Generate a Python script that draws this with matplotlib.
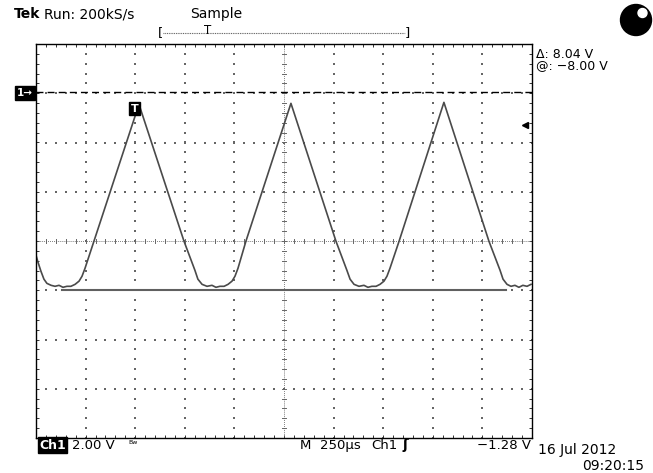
import numpy as np
import matplotlib
matplotlib.use("Agg")
import matplotlib.pyplot as plt
from matplotlib.patches import Circle

W, H = 653, 473

# ---- data: trace (time in microseconds from left edge, volts) ----
t_us = [0, 10, 25, 40, 55, 76, 96, 116, 136, 156, 176, 197, 217, 232, 247, 292,
        519, 746, 801, 816, 837, 862, 887, 907, 927, 948, 968, 988, 1003, 1018, 1058,
        1285, 1512, 1567, 1583, 1603, 1628, 1653, 1673, 1693, 1714, 1734, 1754, 1769, 1784, 1830,
        2056, 2283, 2339, 2354, 2374, 2394, 2414, 2434, 2454, 2475, 2495]
volts = [-6.58, -6.86, -7.23, -7.55, -7.72, -7.80, -7.84, -7.80, -7.88, -7.84, -7.84, -7.76, -7.63, -7.43, -7.11, -6.01,
         -0.45, -6.01, -7.19, -7.55, -7.76, -7.84, -7.80, -7.88, -7.84, -7.84, -7.76, -7.63, -7.43, -7.11, -6.01,
         -0.41, -6.01, -7.19, -7.55, -7.76, -7.84, -7.80, -7.88, -7.84, -7.84, -7.76, -7.63, -7.43, -7.11, -6.01,
         -0.37, -6.01, -7.19, -7.55, -7.76, -7.84, -7.80, -7.88, -7.80, -7.84, -7.76]

cursor_a = 0.04      # dashed cursor (V)
cursor_b = -8.00     # solid cursor (V)
cursor_b_span = [131, 2369]
trig_level = -1.28
trig_time = 496

time_per_div = 250.0
volt_per_div = 2.0
x_range = [0, 2500]
y_range = [-14, 2]
center_v = -6.0
center_t = 1250

fig = plt.figure(figsize=(W / 100, H / 100), dpi=100, facecolor="white")
ax = fig.add_axes([36 / W, 1 - 438 / H, 496 / W, 394 / H])
ax.set_xlim(*x_range)
ax.set_ylim(*y_range)
for s in ax.spines.values():
    s.set_linewidth(1.0)
    s.set_color("black")

# border ticks every 0.2 div
ax.set_xticks(np.arange(x_range[0], x_range[1] + 1, time_per_div / 5))
ax.set_yticks(np.arange(y_range[0], y_range[1] + 0.01, volt_per_div / 5))
ax.tick_params(direction="in", length=2.5, width=0.7, top=True, right=True,
               labelbottom=False, labelleft=False, colors="#333333")

gcol = "#666666"
# grid dots
vdots = np.arange(y_range[0], y_range[1] + 0.01, volt_per_div / 5)
tdots = np.arange(x_range[0], x_range[1] + 1, time_per_div / 5)
for k in range(1, 10):
    tx = k * time_per_div
    if tx == center_t:
        continue
    ax.scatter(np.full_like(vdots, tx), vdots, s=1.0, color=gcol, marker="s", linewidths=0)
for k in range(1, 8):
    vy = y_range[0] + k * volt_per_div
    if abs(vy - center_v) < 1e-6:
        continue
    ax.scatter(tdots, np.full_like(tdots, vy), s=1.0, color=gcol, marker="s", linewidths=0)

# center lines (dense dotted with tick marks)
ax.plot(x_range, [center_v, center_v], color=gcol, lw=0.7, ls=(0, (0.8, 1.2)))
ax.plot([center_t, center_t], y_range, color=gcol, lw=0.7, ls=(0, (0.8, 1.2)))
dv = 0.1
dt = 12.6
for tx in tdots:
    ax.plot([tx, tx], [center_v - dv, center_v + dv], color=gcol, lw=0.7)
for vy in vdots:
    ax.plot([center_t - dt, center_t + dt], [vy, vy], color=gcol, lw=0.7)

# cursors
ax.plot(x_range, [cursor_a, cursor_a], color="black", lw=1.0, ls=(0, (5, 3)))
ax.plot(cursor_b_span, [cursor_b, cursor_b], color="#606060", lw=1.5)

# trace
ax.plot(t_us, volts, color="#4a4a4a", lw=1.2, solid_joinstyle="round")

# trigger marker 'T' near peak
ax.text(trig_time, -0.62, "T", color="white", fontsize=8, fontweight="bold",
        ha="center", va="center",
        bbox=dict(boxstyle="square,pad=0.12", fc="black", ec="black"))

# trigger level arrow on right
ax.plot([x_range[1] - 35], [trig_level], marker="<", color="black", markersize=5, clip_on=False)


def fx(x):
    return x / W


def fy(y):
    return 1 - y / H


# Ground marker 1->
fig.text(fx(17), fy(93), "1→", color="white", fontsize=7.5, fontweight="bold",
         ha="left", va="center",
         bbox=dict(boxstyle="square,pad=0.15", fc="black", ec="black"))

# top texts
fig.text(fx(14), fy(14), "Tek", fontsize=10, fontweight="bold", ha="left", va="center")
fig.text(fx(44), fy(14), "Run: 200kS/s", fontsize=10, ha="left", va="center")
fig.text(fx(190), fy(14), "Sample", fontsize=10, ha="left", va="center")

# record bracket
fig.text(fx(158), fy(33), "[", fontsize=9.5, ha="left", va="center")
fig.text(fx(410), fy(33), "]", fontsize=9.5, ha="right", va="center")
fig.add_artist(plt.Line2D([fx(163), fx(405)], [fy(33), fy(33)], color="#555555",
                          lw=0.8, ls=(0, (0.8, 0.8))))
fig.text(fx(208), fy(31), "T", fontsize=8.5, ha="center", va="center")

# ball top right (drawn in inch coordinates to stay round)
fig.add_artist(Circle((6.36, (H - 20) / 100), 0.155, transform=fig.dpi_scale_trans,
                      fc="black", ec="black"))
fig.add_artist(Circle((6.425, (H - 13) / 100), 0.045, transform=fig.dpi_scale_trans,
                      fc="white", ec="white"))

# right readouts
fig.text(fx(536), fy(54), "Δ: 8.04 V", fontsize=9, ha="left", va="center")
fig.text(fx(536), fy(66), "@: −8.00 V", fontsize=9, ha="left", va="center")

# bottom readouts
fig.text(fx(39), fy(445), "Ch1", color="white", fontsize=9, fontweight="bold",
         ha="left", va="center",
         bbox=dict(boxstyle="square,pad=0.1", fc="black", ec="black"))
fig.text(fx(72), fy(445), "2.00 V", fontsize=9.5, ha="left", va="center")
fig.text(fx(128), fy(443), "Bw", fontsize=4.5, ha="left", va="center")
fig.text(fx(300), fy(445), "M", fontsize=9.5, ha="left", va="center")
fig.text(fx(320), fy(445), "250µs", fontsize=9.5, ha="left", va="center")
fig.text(fx(371), fy(445), "Ch1", fontsize=9.5, ha="left", va="center")
fig.text(fx(403), fy(445), "ʃ", fontsize=10, ha="left", va="center", fontweight="bold")
fig.text(fx(531), fy(445), "−1.28 V", fontsize=9.5, ha="right", va="center")
fig.text(fx(538), fy(450), "16 Jul 2012", fontsize=10, ha="left", va="center")
fig.text(fx(582), fy(466), "09:20:15", fontsize=10, ha="left", va="center")

fig.savefig("out.png", dpi=100, facecolor="white")
